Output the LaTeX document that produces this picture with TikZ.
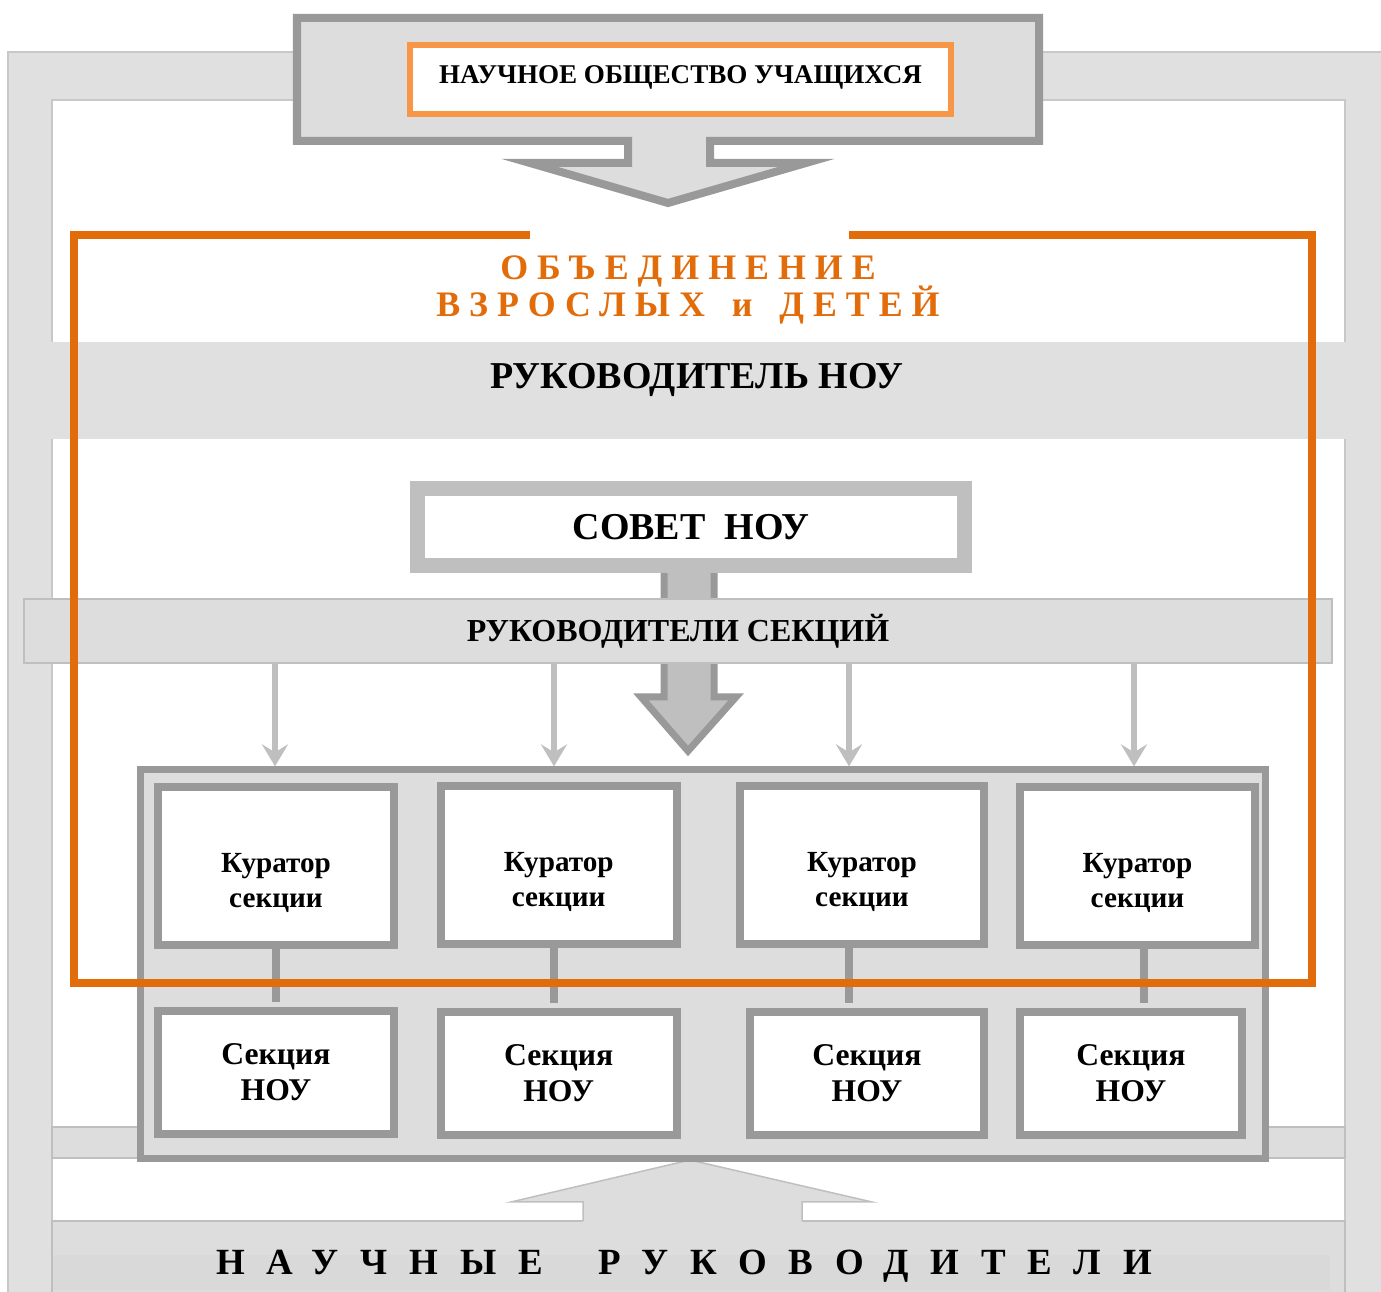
\documentclass[tikz,border=0pt]{standalone}
\usepackage{fontspec}
\setmainfont{Liberation Serif}
\usepackage{tikz}
\usetikzlibrary{arrows.meta,positioning}
\definecolor{framefill}{HTML}{E0E0E0}
\definecolor{frameline}{HTML}{C8C8C8}
\definecolor{panelfill}{HTML}{DDDDDD}
\definecolor{stripfill}{HTML}{D9D9D9}
\definecolor{darkline}{HTML}{999999}
\definecolor{silverline}{HTML}{BFBFBF}
\definecolor{nouorange}{HTML}{E36C0A}
\definecolor{lightorange}{HTML}{F79646}
\tikzset{
    framebar/.style={
    fill=framefill,draw=frameline,line width=0.015cm
    },
    topbox/.style={
    fill=panelfill,draw=darkline,line width=0.08cm
    },
    orangebox/.style={
    rectangle,draw=lightorange,fill=white,line width=0.06cm,inner sep=0pt,
    text height=0.18cm,text depth=0.09cm,font=\bfseries\fontsize{7.7}{9}\selectfont
    },
    sovetbox/.style={
    rectangle,draw=silverline,fill=white,line width=0.15cm,inner sep=0pt,
    text height=0.25cm,text depth=0pt,font=\bfseries\fontsize{10.8}{12}\selectfont
    },
    secband/.style={
    rectangle,draw=silverline,fill=panelfill,line width=0.02cm,inner sep=0pt,
    text height=0.22cm,text depth=0pt,font=\bfseries\fontsize{9.1}{11}\selectfont
    },
    headtext/.style={
    inner sep=0pt,text height=0.26cm,text depth=0pt,font=\bfseries\fontsize{10.8}{13}\selectfont
    },
    titletext/.style={
    inner sep=0pt,text height=0.24cm,text depth=0pt,text=nouorange,
    font=\bfseries\fontsize{10.2}{12}\selectfont\addfontfeature{LetterSpace=25}
    },
    bottomtext/.style={
    inner sep=0pt,text height=0.25cm,text depth=0pt,
    font=\bfseries\fontsize{10.5}{12}\selectfont\addfontfeature{LetterSpace=59}
    },
    bigarrow/.style={
    fill=silverline,draw=darkline,line width=0.07cm
    },
    panel/.style={
    rectangle,draw=darkline,fill=panelfill,line width=0.07cm,inner sep=0pt
    },
    kurator/.style={
    rectangle,draw=darkline,fill=white,line width=0.08cm,inner sep=0pt,
    minimum height=1.58cm
    },
    kurtext/.style={
    align=center,inner sep=0pt,yshift=-0.17cm,font=\bfseries\fontsize{8.3}{9.7}\selectfont
    },
    sekcia/.style={
    rectangle,draw=darkline,fill=white,line width=0.08cm,inner sep=0pt,
    minimum height=1.23cm,align=center,font=\bfseries\fontsize{9}{10.2}\selectfont
    },
    link/.style={
    color=darkline,line width=0.08cm,shorten >=0.05cm
    },
    feed/.style={
    color=silverline,line width=0.06cm,-{Stealth[length=0.22cm,width=0.26cm,inset=0.08cm]}
    },
    orangeframe/.style={
    draw=nouorange,line width=0.08cm
    },
}
\begin{document}
\begin{tikzpicture}[x=0.01cm,y=-0.01cm,line join=miter]
  \useasboundingbox[fill=white] (0,0) rectangle (1381,1292);
  \filldraw[framebar,even odd rule] (8,52) rectangle (1400,1310) (52,100) rectangle (1345,1310);

  \filldraw[topbox] (297,18) -- (1039,18) -- (1039,141) -- (710,141) -- (710,163) -- (806,163)
    -- (668,203) -- (530,163) -- (628,163) -- (628,141) -- (297,141) -- cycle;
  \node[orangebox,minimum width=5.41cm,minimum height=0.69cm] (nou) at (680.5,79.5) {НАУЧНОЕ ОБЩЕСТВО УЧАЩИХСЯ};

  \fill[framefill] (50,342) rectangle (1347,439);
  \node[headtext] (head) at (697,376) {РУКОВОДИТЕЛЬ НОУ};

  \filldraw[bigarrow] (664,540) -- (664,697) -- (641,697) -- (688,751) -- (736,697) -- (714,697) -- (714,540) -- cycle;
  \node[sovetbox,minimum width=5.475cm,minimum height=0.765cm] (sovet) at (691,527) {СОВЕТ\ \ НОУ};
  \node[secband,minimum width=13.08cm,minimum height=0.64cm] (rs) at (678,631) {РУКОВОДИТЕЛИ СЕКЦИЙ};

  \filldraw[fill=panelfill,draw=silverline,line width=0.015cm] (52,1127) rectangle (1345,1158);
  \filldraw[fill=panelfill,draw=silverline,line width=0.015cm] (52,1221) rectangle (1345,1310);
  \fill[stripfill] (53,1255) rectangle (1330,1290);
  \fill[panelfill] (583,1223) -- (583,1202) -- (511,1202) -- (690,1160) -- (872,1202) -- (802,1202) -- (802,1223) -- cycle;
  \draw[silverline,line width=0.015cm] (583,1221) -- (583,1202) -- (511,1202) -- (690,1160) -- (872,1202) -- (802,1202) -- (802,1221);
  \node[bottomtext] (nr) at (684,1262) {НАУЧНЫЕ\hspace{1.5em}РУКОВОДИТЕЛИ};

  \node[panel,minimum width=11.24cm,minimum height=3.88cm] (sec) at (703,964) {};

  \node[kurator,minimum width=2.36cm,label={[kurtext]center:Куратор\\секции}] (k1) at (276,866) {};
  \node[kurator,minimum width=2.355cm,label={[kurtext]center:Куратор\\секции}] (k2) at (558.7,865) {};
  \node[kurator,minimum width=2.44cm,label={[kurtext]center:Куратор\\секции}] (k3) at (862,865) {};
  \node[kurator,minimum width=2.34cm,label={[kurtext]center:Куратор\\секции}] (k4) at (1137.5,866) {};

  \node[sekcia,minimum width=2.355cm] (s1) at (276,1072.5) {Секция\\НОУ};
  \node[sekcia,minimum width=2.355cm] (s2) at (558.7,1073.5) {Секция\\НОУ};
  \node[sekcia,minimum width=2.34cm] (s3) at (867,1073.5) {Секция\\НОУ};
  \node[sekcia,minimum width=2.215cm] (s4) at (1131,1073.5) {Секция\\НОУ};

  \path[link]
    (k1.south) edge (s1.north -| k1.south)
    (k2.south -| 554,0) edge (s2.north -| 554,0)
    (k3.south -| 849,0) edge (s3.north -| 849,0)
    (k4.south -| 1144,0) edge (s4.north -| 1144,0);

  \path[feed]
    (rs.south -| 275,0) edge (sec.north -| 275,0)
    (rs.south -| 554,0) edge (sec.north -| 554,0)
    (rs.south -| 849,0) edge (sec.north -| 849,0)
    (rs.south -| 1134,0) edge (sec.north -| 1134,0);

  \draw[orangeframe] (530,235) -- (74,235) -- (74,983) -- (1312,983) -- (1312,235) -- (849,235);
  \node[titletext] (ob1) at (688,268) {ОБЪЕДИНЕНИЕ};
  \node[titletext] (ob2) at (688,305) {ВЗРОСЛЫХ\hspace{0.75em}и\hspace{0.75em}ДЕТЕЙ};
\end{tikzpicture}
\end{document}
